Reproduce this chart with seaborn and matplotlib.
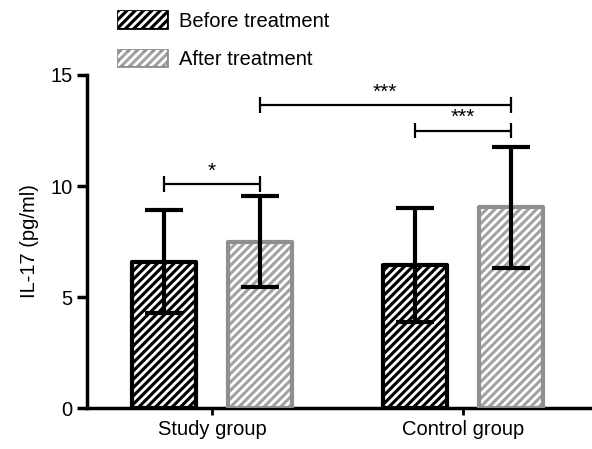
import matplotlib
matplotlib.use("Agg")
import matplotlib.pyplot as plt
import seaborn as sns
import pandas as pd
from matplotlib.patches import Rectangle, Patch
from matplotlib.legend_handler import HandlerTuple

groups = ["Study group", "Study group", "Control group", "Control group"]
phases = ["Before treatment", "After treatment", "Before treatment", "After treatment"]
means = [6.6, 7.5, 6.45, 9.05]
sds = [2.3, 2.05, 2.58, 2.72]

# significance brackets: (bar index a, bar index b, height, label)
brackets = [(0, 1, 10.1, "*"), (1, 3, 13.65, "***"), (2, 3, 12.5, "***")]

face = {"Before treatment": "#000000", "After treatment": "#a3a3a3"}
edge = {"Before treatment": "#000000", "After treatment": "#8f8f8f"}

sns.set_style("ticks")
plt.rcParams["font.family"] = ["Liberation Sans", "DejaVu Sans"]
plt.rcParams["hatch.linewidth"] = 2.0
for k in ["text.color", "axes.labelcolor", "xtick.color", "ytick.color"]:
    plt.rcParams[k] = "black"

df = pd.DataFrame({"group": groups, "phase": phases, "value": means})

fig = plt.figure(figsize=(5.92, 4.49), dpi=100)
ax = fig.add_axes([0.147, 0.091, 0.853, 0.742])

sns.barplot(data=df, x="group", y="value", hue="phase", palette=face,
            width=0.76, gap=0.33, errorbar=None, legend=False, ax=ax,
            order=["Study group", "Control group"],
            hue_order=["Before treatment", "After treatment"])

bars = sorted([p for p in ax.patches if p.get_height() > 0], key=lambda p: p.get_x())
centers = []
for p, ph, m, s in zip(bars, phases, means, sds):
    p.set_edgecolor("none")
    x, w, h = p.get_x(), p.get_width(), p.get_height()
    ax.add_patch(Rectangle((x, 0), w, h, facecolor="none", edgecolor="white",
                           hatch="////", lw=0, zorder=3))
    ax.add_patch(Rectangle((x, 0), w, h, facecolor="none", edgecolor=edge[ph],
                           lw=3, zorder=4, joinstyle="round"))
    cx = x + w / 2
    centers.append(cx)
    ax.errorbar(cx, m, yerr=s, fmt="none", ecolor="black", elinewidth=3,
                capsize=14, capthick=3, zorder=5)

for a, b, y, lab in brackets:
    ax.plot([centers[a], centers[b]], [y, y], color="black", lw=1.6, zorder=6)
    ax.vlines([centers[a], centers[b]], y - 0.35, y + 0.35, color="black", lw=1.6, zorder=6)
    ax.text((centers[a] + centers[b]) / 2, y + 0.15, lab, ha="center", va="bottom",
            fontsize=15, zorder=6)

ax.set_ylim(0, 15)
ax.set_yticks([0, 5, 10, 15])
ax.set_xlim(-0.498, 1.514)
ax.set_xlabel("")
ax.set_ylabel("IL-17 (pg/ml)", fontsize=14.5, labelpad=8)
ax.tick_params(axis="both", labelsize=14.5, width=2.5, length=7, color="black")
ax.tick_params(axis="x", length=5, width=2)
for side in ["left", "bottom"]:
    ax.spines[side].set_linewidth(2.5)
    ax.spines[side].set_color("black")
sns.despine(ax=ax)
ax.patch.set_alpha(0)

handles = []
for ph in ["Before treatment", "After treatment"]:
    handles.append((Patch(facecolor=face[ph], edgecolor=edge[ph], lw=2, joinstyle="round"),
                    Patch(facecolor="none", edgecolor="white", hatch="////", lw=0)))
fig.legend(handles, ["Before treatment", "After treatment"],
           handler_map={tuple: HandlerTuple(ndivide=1, pad=0)},
           loc="upper left", bbox_to_anchor=(0.2, 0.975), frameon=False,
           fontsize=14.5, handlelength=2.4, handleheight=0.9, handletextpad=0.6,
           labelspacing=0.95, borderpad=0, borderaxespad=0)

fig.savefig("out.png", dpi=100)
